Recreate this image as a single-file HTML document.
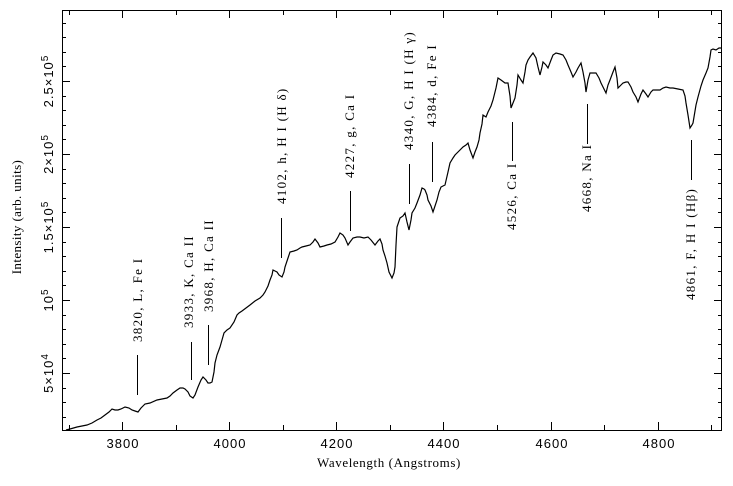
<!DOCTYPE html>
<html><head><meta charset="utf-8"><style>body{margin:0;background:#fff}svg{display:block}</style></head>
<body>
<svg width="733" height="486" viewBox="0 0 733 486" xmlns="http://www.w3.org/2000/svg">
<rect width="733" height="486" fill="#fff"/>
<g stroke="#000" stroke-width="1" fill="none" shape-rendering="crispEdges">
<rect x="62.5" y="10.5" width="659" height="420"/>
<path d="
M69.5,430V425 M122.5,430V422 M176.5,430V425 M229.5,430V422 M283.5,430V425 M336.5,430V422 M390.5,430V425 M443.5,430V422 M497.5,430V425 M551.5,430V422 M604.5,430V425 M658.5,430V422 M711.5,430V425
M69.5,10V15 M122.5,10V18 M176.5,10V15 M229.5,10V18 M283.5,10V15 M336.5,10V18 M390.5,10V15 M443.5,10V18 M497.5,10V15 M551.5,10V18 M604.5,10V15 M658.5,10V18 M711.5,10V15
M62,417.5H66 M62,402.5H66 M62,388.5H66 M62,373.5H70 M62,358.5H66 M62,344.5H66 M62,329.5H66 M62,315.5H66 M62,300.5H70 M62,285.5H66 M62,271.5H66 M62,256.5H66 M62,242.5H66 M62,227.5H70 M62,212.5H66 M62,198.5H66 M62,183.5H66 M62,169.5H66 M62,154.5H70 M62,139.5H66 M62,125.5H66 M62,110.5H66 M62,96.5H66 M62,81.5H70 M62,66.5H66 M62,52.5H66 M62,37.5H66 M62,23.5H66
M722,417.5H718 M722,402.5H718 M722,388.5H718 M722,373.5H714 M722,358.5H718 M722,344.5H718 M722,329.5H718 M722,315.5H718 M722,300.5H714 M722,285.5H718 M722,271.5H718 M722,256.5H718 M722,242.5H718 M722,227.5H714 M722,212.5H718 M722,198.5H718 M722,183.5H718 M722,169.5H718 M722,154.5H714 M722,139.5H718 M722,125.5H718 M722,110.5H718 M722,96.5H718 M722,81.5H714 M722,66.5H718 M722,52.5H718 M722,37.5H718 M722,23.5H718"/>
<path d="M137.5,355V395 M191.5,342V380 M208.5,325V365 M281.5,218V258 M350.5,191V231 M409.5,164V204 M432.5,142V182 M512.5,122V161 M587.5,104V144 M691.5,140V180"/>
</g>
<polyline fill="none" stroke="#000" stroke-width="1.2" stroke-linejoin="miter" points="
66,430 70,429 77,427 82,426 87,425 92,423 97,420 101,418 105,415 109,412 112,409 115,410 118,410 121,409 125,407 129,408 132,410 135,411 138,412 141,408 145,404 150,403 157,400 162,399 167,398 170,396 173,393 177,390 180,388 183,388 185,389 188,392 190,396 193,398 195,395 198,387 201,380 203,377 206,380 208,383 210,383 212,382 214,372 215,363 217,355 220,347 222,340 224,333 227,330 230,328 234,322 237,315 239,313 242,311 246,308 250,305 255,301 260,298 263,295 265,292 268,286 270,280 272,275 273,270 275,271 277,272 279,275 282,277 284,272 285,267 288,258 290,252 294,251 297,250 300,248 302,247 306,246 310,245 313,242 315,239 318,243 320,247 324,246 327,245 331,244 335,242 338,237 340,233 343,235 345,238 348,245 350,242 353,238 357,237 360,237 364,238 368,237 371,240 375,245 378,241 380,239 382,244 383,250 385,256 387,263 389,272 392,278 394,273 395,267 396,245 397,227 399,221 400,218 403,216 405,213 407,222 409,230 411,220 412,213 415,208 417,203 420,195 422,188 424,189 425,190 427,195 428,200 431,206 433,212 435,206 437,200 439,192 441,187 443,186 445,185 448,172 450,163 453,158 455,155 459,151 463,147 466,145 468,143 470,150 473,158 475,152 477,147 479,140 480,133 482,124 483,115 486,117 488,112 491,106 493,100 496,88 498,78 501,80 505,83 508,83 510,96 511,108 513,103 515,98 517,85 518,75 521,80 523,83 525,72 526,65 528,60 530,57 533,53 536,58 538,67 540,75 542,67 543,62 546,65 548,68 551,60 553,55 556,53 560,54 563,55 566,60 568,65 571,72 573,77 576,72 578,68 581,63 583,72 585,83 586,92 588,80 590,73 593,73 596,73 599,78 601,83 604,89 606,93 608,85 610,80 613,72 615,67 617,78 618,88 621,85 623,83 626,82 628,82 631,87 633,92 636,97 638,102 641,94 643,90 646,94 648,97 651,92 653,90 657,90 660,90 663,88 666,87 670,88 673,88 678,89 683,90 685,96 686,103 688,115 690,128 692,125 693,123 696,105 698,97 701,86 703,80 706,73 708,68 710,57 711,50 713,49 716,50 719,48 722,48"/>
<g font-family="Liberation Serif, serif" font-size="13" letter-spacing="1.3" fill="#000">
<text transform="translate(142,342) rotate(-90)">3820, L, Fe I</text>
<text transform="translate(193,328) rotate(-90)">3933, K, Ca II</text>
<text transform="translate(213,312) rotate(-90)">3968, H, Ca II</text>
<text transform="translate(286,204) rotate(-90)">4102, h, H I (H δ)</text>
<text transform="translate(354,178) rotate(-90)">4227, g, Ca I</text>
<text transform="translate(413,150) rotate(-90)">4340, G, H I (H γ)</text>
<text transform="translate(436,127) rotate(-90)">4384, d, Fe I</text>
<text transform="translate(516,230) rotate(-90)">4526, Ca I</text>
<text transform="translate(591,212) rotate(-90)">4668, Na I</text>
<text transform="translate(695,300) rotate(-90)">4861, F, H I (Hβ)</text>
<text transform="translate(21,217) rotate(-90)" text-anchor="middle" letter-spacing="0.4">Intensity (arb. units)</text>
<text x="389" y="467" text-anchor="middle" letter-spacing="0.6">Wavelength (Angstroms)</text>
</g>
<g font-family="Liberation Sans, sans-serif" font-size="13" letter-spacing="1" fill="#000">
<text x="123" y="448" text-anchor="middle">3800</text>
<text x="230" y="448" text-anchor="middle">4000</text>
<text x="337" y="448" text-anchor="middle">4200</text>
<text x="444" y="448" text-anchor="middle">4400</text>
<text x="552" y="448" text-anchor="middle">4600</text>
<text x="659" y="448" text-anchor="middle">4800</text>
<text transform="translate(53,373) rotate(-90)" text-anchor="middle">5×10<tspan dy="-5" font-size="10">4</tspan></text>
<text transform="translate(53,300) rotate(-90)" text-anchor="middle">10<tspan dy="-5" font-size="10">5</tspan></text>
<text transform="translate(53,227) rotate(-90)" text-anchor="middle">1.5×10<tspan dy="-5" font-size="10">5</tspan></text>
<text transform="translate(53,154) rotate(-90)" text-anchor="middle">2×10<tspan dy="-5" font-size="10">5</tspan></text>
<text transform="translate(53,81) rotate(-90)" text-anchor="middle">2.5×10<tspan dy="-5" font-size="10">5</tspan></text>
</g>
</svg>
</body></html>
